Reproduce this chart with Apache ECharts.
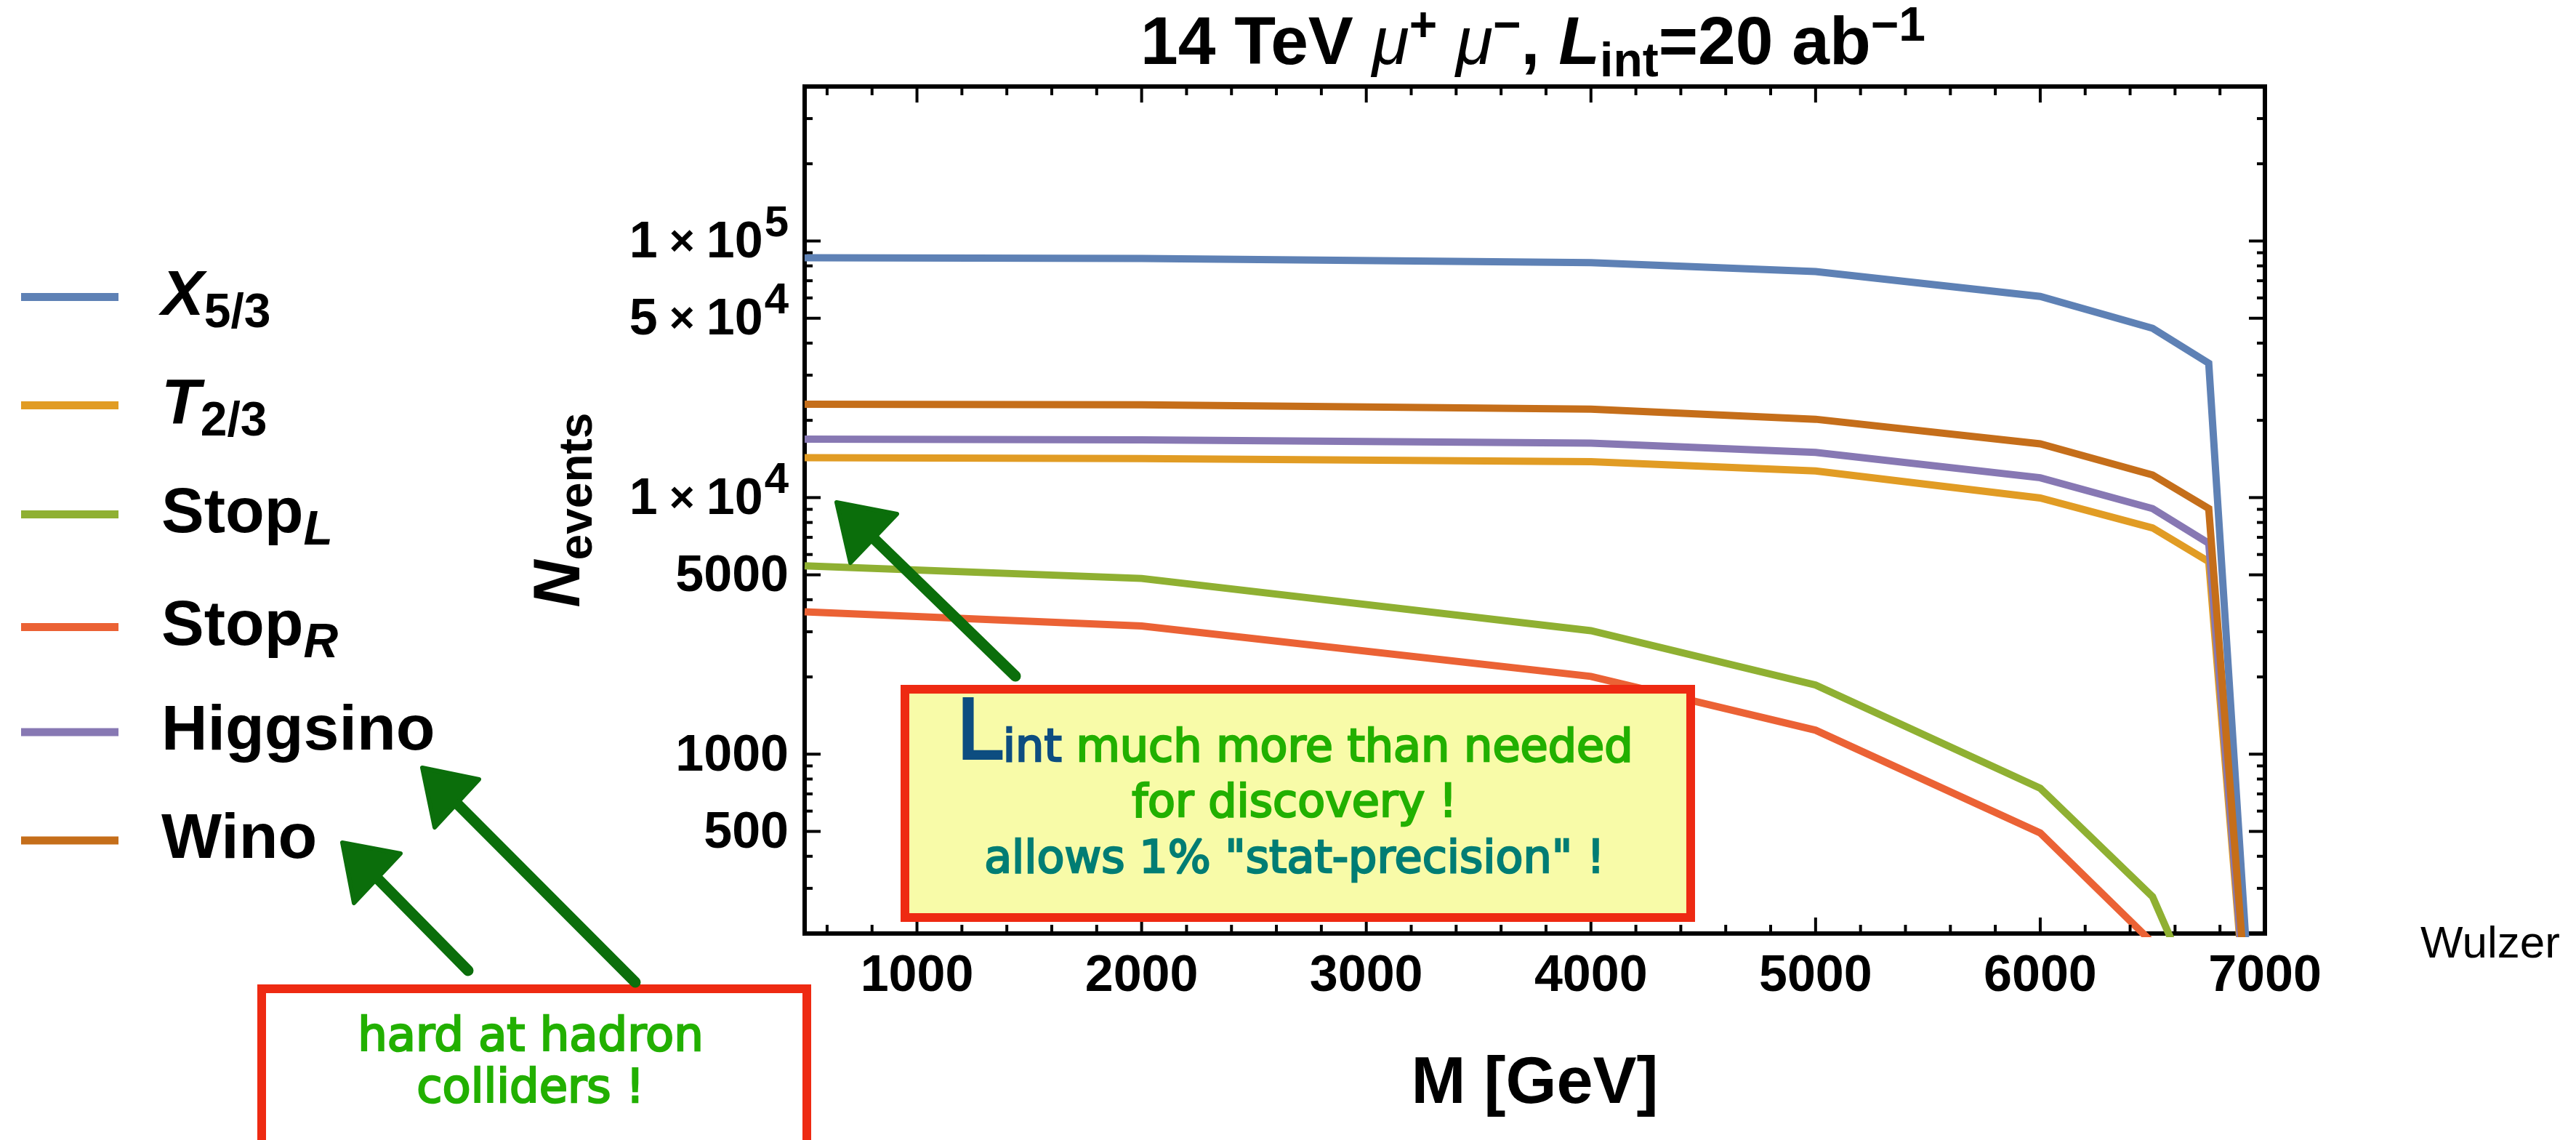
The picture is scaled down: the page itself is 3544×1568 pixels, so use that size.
<!DOCTYPE html>
<html><head><meta charset="utf-8">
<script src="https://cdn.jsdelivr.net/npm/echarts@6/dist/echarts.min.js"></script>
<style>html,body{margin:0;padding:0;background:#fff}#c{width:3544px;height:1568px}</style>
</head><body><div id="c"></div>
<script>
// ---------------- data ----------------
const masses   = [500, 2000, 4000, 5000, 6000, 6500, 6750, 7000];
const x53      = [86000, 85500, 82300, 76000, 60800, 45700, 33400, 13];
const t23      = [14300, 14200, 13800, 12700, 9960, 7620, 5630, 12];
const stopL    = [5420, 4840, 3030, 1860, 737, 278, 88, 5];
const stopR    = [3590, 3160, 2010, 1240, 493, 184, 60, 4];
const higgsino = [16900, 16800, 16300, 15000, 11950, 9060, 6640, 12];
const wino     = [23100, 23000, 22100, 20200, 16200, 12250, 9060, 13];
const seriesNames = ['X5/3', 'T2/3', 'StopL', 'StopR', 'Higgsino', 'Wino'];
const seriesValues = [x53, t23, stopL, stopR, higgsino, wino];
const legendLabels = ['{sp| }{it|X}{sub|5/3}', '{sp| }{it|T}{sub|2/3}', '{sp| }{rm|Stop}{subi|L}',
                      '{sp| }{rm|Stop}{subi|R}', '{sp| }{rm|Higgsino}', '{sp| }{rm|Wino}'];
const xMajorTicks = [1000, 2000, 3000, 4000, 5000, 6000, 7000];
const xMinorTicks = [600, 800, 1200, 1400, 1600, 1800, 2200, 2400, 2600, 2800, 3200, 3400, 3600, 3800,
                     4200, 4400, 4600, 4800, 5200, 5400, 5600, 5800, 6200, 6400, 6600, 6800];
const yLabelValues = [500, 1000, 5000, 10000, 50000, 100000];
const yMinorTicks = [200, 300, 400, 600, 700, 800, 900, 2000, 3000, 4000, 6000, 7000, 8000, 9000,
                     20000, 30000, 40000, 60000, 70000, 80000, 90000, 200000, 300000, 400000];

// ---------------- styling ----------------
const F = '"Liberation Sans", Arial, sans-serif';
const HAND = '"DejaVu Sans", sans-serif';
const colors = ['#5e81b5', '#e19c24', '#8fb032', '#eb6235', '#8778b3', '#c56e1a'];
const X_MIN = 500, X_MAX = 7000, Y_MIN = 200, Y_MAX = 400000;
const legendRowY = [396, 545, 695, 850, 1007, 1156];

const legendRich = {
  sp:   {width: 54, fontSize: 10, lineHeight: 20},
  rm:   {fontSize: 88, fontWeight: 'bold', fontFamily: F, lineHeight: 88, color: '#000'},
  it:   {fontSize: 88, fontWeight: 'bold', fontStyle: 'italic', fontFamily: F, lineHeight: 88, color: '#000'},
  sub:  {fontSize: 66, fontWeight: 'bold', fontFamily: F, lineHeight: 20, padding: [47, 0, 0, 0], color: '#000'},
  subi: {fontSize: 66, fontWeight: 'bold', fontStyle: 'italic', fontFamily: F, lineHeight: 20, padding: [47, 0, 0, 0], color: '#000'}
};

function yLabelText(v) {
  if (v >= 10000) {
    const e = Math.floor(Math.log10(v) + 1e-9);
    const m = Math.round(v / Math.pow(10, e));
    return '{m|' + m + '}{x|×}{m|10}{s|' + e + '}';
  }
  return '{m|' + v + '}';
}
const yLabelRich = {
  m: {fontSize: 70, fontWeight: 'bold', fontFamily: F, lineHeight: 70, color: '#000'},
  x: {fontSize: 60, fontWeight: 'bold', fontFamily: F, lineHeight: 20, padding: [0, 16, 0, 16], color: '#000'},
  s: {fontSize: 60, fontWeight: 'bold', fontFamily: F, lineHeight: 20, padding: [0, 0, 52, 2], color: '#000'}
};

function xTickSeries(values, len) {
  return {
    type: 'custom', coordinateSystem: 'cartesian2d', clip: false, silent: true, z: 4,
    data: values.map(v => [v, Y_MIN]),
    renderItem: (params, api) => {
      const v = api.value(0);
      const b = api.coord([v, Y_MIN]), t = api.coord([v, Y_MAX]);
      const st = {stroke: '#000', lineWidth: 4};
      return {type: 'group', children: [
        {type: 'line', shape: {x1: b[0], y1: b[1], x2: b[0], y2: b[1] - len}, style: st},
        {type: 'line', shape: {x1: t[0], y1: t[1], x2: t[0], y2: t[1] + len}, style: st}
      ]};
    }
  };
}
function yTickSeries(values, len) {
  return {
    type: 'custom', coordinateSystem: 'cartesian2d', clip: false, silent: true, z: 4,
    data: values.map(v => [X_MIN, v]),
    renderItem: (params, api) => {
      const v = api.value(1);
      const l = api.coord([X_MIN, v]), r = api.coord([X_MAX, v]);
      const st = {stroke: '#000', lineWidth: 4};
      return {type: 'group', children: [
        {type: 'line', shape: {x1: l[0], y1: l[1], x2: l[0] + len, y2: l[1]}, style: st},
        {type: 'line', shape: {x1: r[0], y1: r[1], x2: r[0] - len, y2: r[1]}, style: st}
      ]};
    }
  };
}
const yLabelSeries = {
  type: 'custom', coordinateSystem: 'cartesian2d', clip: false, silent: true, z: 4,
  data: yLabelValues.map(v => [X_MIN, v]),
  renderItem: (params, api) => {
    const v = api.value(1);
    const p = api.coord([X_MIN, v]);
    return {type: 'text', x: p[0] - 22, y: p[1] + 3,
      style: {text: yLabelText(v), rich: yLabelRich, align: 'right', verticalAlign: 'middle',
              fontSize: 70, fontWeight: 'bold', fontFamily: F, fill: '#000'}};
  }
};

const lineSeries = seriesNames.map((name, i) => ({
  type: 'line', name: name, data: masses.map((m, j) => [m, seriesValues[i][j]]),
  showSymbol: false, symbol: 'none', clip: true, z: 3, silent: true,
  lineStyle: {color: colors[i], width: 10, join: 'miter'}, itemStyle: {color: colors[i]}
}));

const legends = seriesNames.map((name, i) => ({
  show: true, data: [{name: name, icon: 'rect'}], left: 29, top: legendRowY[i] - 44,
  orient: 'vertical', itemWidth: 134, itemHeight: 11, itemGap: 0, padding: 0, selectedMode: false,
  formatter: () => legendLabels[i],
  textStyle: {fontSize: 88, fontWeight: 'bold', fontFamily: F, color: '#000', rich: legendRich}
}));

// hand-drawn annotations
const RED = '#ee2a12', DKGREEN = '#0b6e0b', GREEN = '#22b000', TEAL = '#007d74', NAVY = '#0d4d80';
function arrow(tail, tip, c1, c2) {
  const mid = [(c1[0] + c2[0]) / 2, (c1[1] + c2[1]) / 2];
  return [
    {type: 'line', z: 100, shape: {x1: tail[0], y1: tail[1], x2: mid[0], y2: mid[1]},
     style: {stroke: DKGREEN, lineWidth: 15, lineCap: 'round'}},
    {type: 'polygon', z: 100, shape: {points: [tip, c1, c2]},
     style: {fill: DKGREEN, stroke: DKGREEN, lineWidth: 6, lineJoin: 'round'}}
  ];
}
function hand(color, size, w) {
  return {fontSize: size, fontFamily: HAND, fill: color, stroke: color, lineWidth: w || 2.5};
}
const titleRich = {
  b:   {fontSize: 93, fontWeight: 'bold', fontFamily: F, lineHeight: 93, fill: '#000'},
  mu:  {fontSize: 93, fontStyle: 'italic', fontFamily: F, lineHeight: 93, fill: '#000'},
  bi:  {fontSize: 93, fontWeight: 'bold', fontStyle: 'italic', fontFamily: F, lineHeight: 93, fill: '#000'},
  sup: {fontSize: 66, fontWeight: 'bold', fontFamily: F, lineHeight: 20, padding: [0, 0, 49, 0], fill: '#000'},
  sub: {fontSize: 66, fontWeight: 'bold', fontFamily: F, lineHeight: 20, padding: [49, 0, 0, 0], fill: '#000'}
};
const graphics = [
  {type: 'text', z: 100, x: 2109, y: 62, style: {
    text: '{b|14 TeV }{mu|μ}{sup|+}{b| }{mu|μ}{sup|−}{b|, }{bi|L}{sub|int}{b|=20 ab}{sup|−1}',
    rich: titleRich, align: 'center', verticalAlign: 'middle', fontSize: 93, fontFamily: F}},
  {type: 'text', z: 100, x: 3330, y: 1300, style: {text: 'Wulzer', fontSize: 62, fontFamily: F,
    fill: '#000', align: 'left', verticalAlign: 'middle'}},
  // box 1
  {type: 'rect', z: 90, shape: {x: 1245, y: 948, width: 1081, height: 314},
   style: {fill: '#f8fba8', stroke: RED, lineWidth: 12}},
  {type: 'text', z: 100, x: 1781, y: 1031, style: {
    text: '{L|L}{i|int}{g| much more than needed}', align: 'center', verticalAlign: 'middle',
    fontSize: 62, fontFamily: HAND,
    rich: {L: Object.assign(hand(NAVY, 112, 4), {lineHeight: 62, padding: [0, 2, 34, 0]}),
           i: Object.assign(hand(NAVY, 62), {lineHeight: 62}),
           g: Object.assign(hand(GREEN, 62), {lineHeight: 62})}}},
  {type: 'text', z: 100, x: 1781, y: 1107, style: Object.assign(hand(GREEN, 62),
    {text: 'for discovery !', align: 'center', verticalAlign: 'middle'})},
  {type: 'text', z: 100, x: 1781, y: 1184, style: Object.assign(hand(TEAL, 62),
    {text: 'allows 1% "stat-precision" !', align: 'center', verticalAlign: 'middle'})},
  // box 2
  {type: 'rect', z: 90, shape: {x: 360, y: 1360, width: 750, height: 260},
   style: {fill: '#ffffff', stroke: RED, lineWidth: 12}},
  {type: 'text', z: 100, x: 730, y: 1428, style: Object.assign(hand(GREEN, 64),
    {text: 'hard at hadron', align: 'center', verticalAlign: 'middle'})},
  {type: 'text', z: 100, x: 730, y: 1499, style: Object.assign(hand(GREEN, 64),
    {text: 'colliders !', align: 'center', verticalAlign: 'middle'})}
].concat(
  arrow([1397, 930], [1151, 691], [1234, 707], [1170, 774]),
  arrow([874, 1351], [581, 1056], [659, 1072], [598, 1138]),
  arrow([644, 1335], [471, 1159], [551, 1174], [487, 1242])
);

const option = {
  animation: false,
  backgroundColor: '#ffffff',
  grid: {left: 1107, top: 119, width: 2009, height: 1165, show: true, borderColor: '#000', borderWidth: 6,
         backgroundColor: 'transparent', containLabel: false, outerBoundsMode: 'none'},
  xAxis: {type: 'value', min: X_MIN, max: X_MAX, interval: 500,
    axisLine: {show: false}, axisTick: {show: false}, splitLine: {show: false},
    axisLabel: {formatter: v => (v % 1000 === 0 ? String(v) : ''), margin: 25, fontSize: 70,
                fontWeight: 'bold', fontFamily: F, color: '#000', showMinLabel: true, showMaxLabel: true},
    name: 'M [GeV]', nameLocation: 'middle', nameGap: 163,
    nameTextStyle: {fontSize: 90, fontWeight: 'bold', fontFamily: F, color: '#000'}},
  yAxis: {type: 'log', logBase: 10, min: Y_MIN, max: Y_MAX,
    axisLine: {show: false}, axisTick: {show: false}, axisLabel: {show: false},
    splitLine: {show: false}, minorTick: {show: false}, minorSplitLine: {show: false},
    name: '{n|N}{s|events}', nameLocation: 'middle', nameRotate: 90, nameGap: 290,
    nameTextStyle: {fontSize: 90, fontFamily: F, color: '#000', rich: {
      n: {fontSize: 90, fontWeight: 'bold', fontStyle: 'italic', fontFamily: F, lineHeight: 90, color: '#000'},
      s: {fontSize: 64, fontWeight: 'bold', fontFamily: F, lineHeight: 20, padding: [48, 0, 0, 0], color: '#000'}}}},
  legend: legends,
  series: lineSeries.concat([
    xTickSeries(xMajorTicks, 22), xTickSeries(xMinorTicks, 12),
    yTickSeries(yLabelValues, 22), yTickSeries(yMinorTicks, 11),
    yLabelSeries
  ]),
  graphic: {elements: graphics}
};
const chart = echarts.init(document.getElementById('c'), null, {renderer: 'canvas', width: 3544, height: 1568});
chart.setOption(option);
</script></body></html>
